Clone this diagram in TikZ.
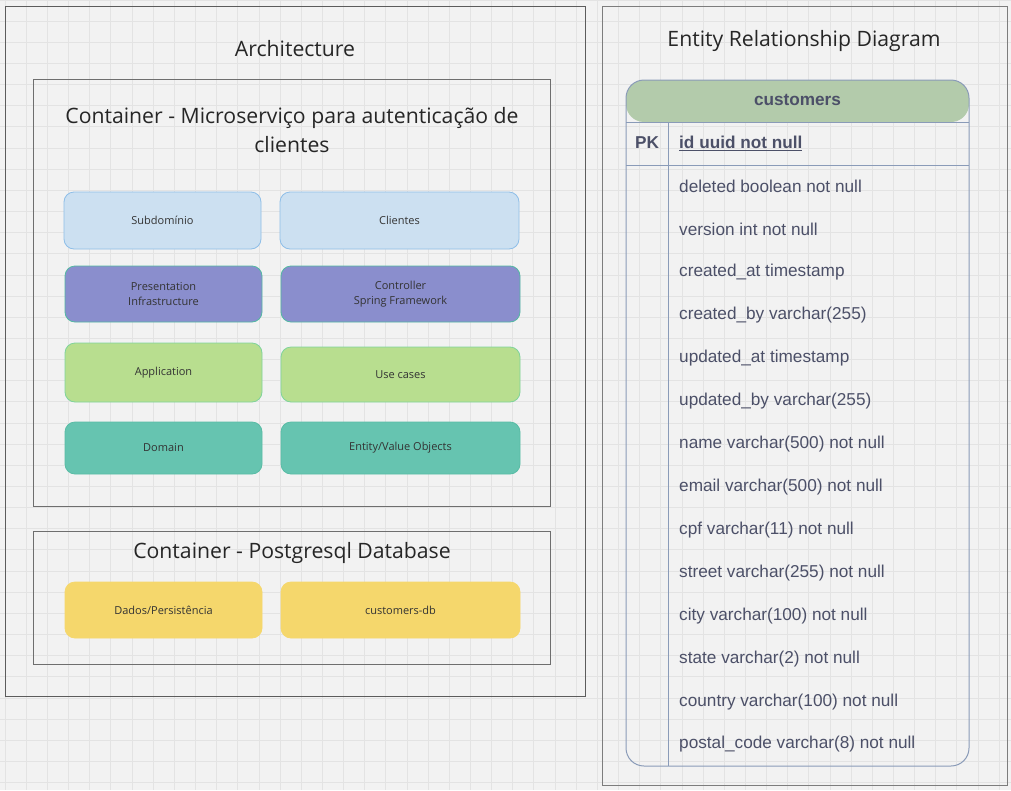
\documentclass[tikz,border=0pt]{standalone}
\usepackage{fontspec}
\setmainfont{Open Sans}
\newfontfamily\tablefont{Liberation Sans}
\usetikzlibrary{positioning}

\definecolor{bgcol}{HTML}{F2F2F2}
\definecolor{gridcol}{HTML}{E3E3E3}
\definecolor{framecol}{HTML}{5C5C5C}
\definecolor{contcol}{HTML}{6E6E6E}
\definecolor{bluefill}{HTML}{CCE0F1}
\definecolor{blueline}{HTML}{8EBEE8}
\definecolor{purplefill}{HTML}{8A8ECD}
\definecolor{purpleline}{HTML}{52B8A2}
\definecolor{greenfill}{HTML}{B8DE8F}
\definecolor{greenline}{HTML}{7FD39B}
\definecolor{tealfill}{HTML}{66C4B0}
\definecolor{tealline}{HTML}{58BCA5}
\definecolor{yellowfill}{HTML}{F5D76C}
\definecolor{headfill}{HTML}{B3CBAB}
\definecolor{tabline}{HTML}{8A9BB8}
\definecolor{tabtext}{HTML}{4C5068}
\definecolor{boxtext}{HTML}{333333}

\tikzset{
	layer/.style={rounded corners=10pt,line width=0.8pt,text=boxtext,align=center,
		font=\fontsize{11}{15}\selectfont,inner sep=0pt},
	title/.style={text=black!85,align=center,font=\fontsize{21.2}{29}\selectfont},
	field/.style={anchor=west,inner xsep=0pt,text=tabtext,font=\tablefont\fontsize{17.2}{20}\selectfont}
}

\begin{document}
\begin{tikzpicture}[x=1pt,y=-1pt]

	\useasboundingbox (0,0) rectangle (1011,790);
	\fill[bgcol] (0,0) rectangle (1011,790);

	% Grid
	\foreach \gx in {0,...,47}
		\draw[gridcol,line width=0.6pt] ({5+21.15*\gx},0) -- ({5+21.15*\gx},790);
	\foreach \gy in {-1,...,36}
		\draw[gridcol,line width=0.6pt] (0,{21+21.15*\gy}) -- (1011,{21+21.15*\gy});

	% Architecture frame
	\draw[framecol,line width=0.9pt] (5,6) rectangle (585,696);
	\node (archtitle) at (295,49) [title] {Architecture};

	% Container - Microservico
	\draw[contcol,line width=0.9pt] (33,79) rectangle (550,506);
	\node (svctitle) at (292,130) [title] {Container - Microserviço para autenticação de\\clientes};

	\node (subdom) at (162.5,220.5) [layer,draw=blueline,fill=bluefill,minimum width=197pt,minimum height=57pt] {Subdomínio};
	\node (clients) at (399.5,220.5) [layer,draw=blueline,fill=bluefill,minimum width=239pt,minimum height=57pt] {Clientes};

	\node (present) at (163.5,294) [layer,draw=purpleline,fill=purplefill,minimum width=197pt,minimum height=56pt] {Presentation\\Infrastructure};
	\node (control) at (400.5,294) [layer,draw=purpleline,fill=purplefill,minimum width=239pt,minimum height=56pt] {Controller\\Spring Framework};

	\node (app) at (163.5,372.5) [layer,draw=greenline,fill=greenfill,minimum width=197pt,minimum height=59pt] {Application};
	\node (usecases) at (400.5,374.5) [layer,draw=greenline,fill=greenfill,minimum width=239pt,minimum height=55pt] {Use cases};

	\node (domain) at (163.5,448) [layer,draw=tealline,fill=tealfill,minimum width=197pt,minimum height=52pt] {Domain};
	\node (entity) at (400.5,448) [layer,draw=tealline,fill=tealfill,minimum width=239pt,minimum height=52pt] {Entity/Value Objects};

	% Container - Postgresql
	\draw[contcol,line width=0.9pt] (33,531) rectangle (550,664);
	\node (dbtitle) at (292,553) [title] {Container - Postgresql Database};

	\node (persist) at (163.5,610) [layer,draw=yellowfill,fill=yellowfill,minimum width=197pt,minimum height=56pt] {Dados/Persistência};
	\node (custdb) at (400.5,610) [layer,draw=yellowfill,fill=yellowfill,minimum width=239pt,minimum height=56pt] {customers-db};

	% ER frame
	\draw[framecol!80,line width=0.9pt] (602,6) rectangle (1007,785);
	\node (ertitle) at (804,41) [title] {Entity Relationship Diagram};

	% Table customers
	\fill[headfill,rounded corners=18pt] (626,122) -- (626,80) -- (969,80) -- (969,122) -- cycle;
	\draw[tabline,line width=1pt,rounded corners=18pt] (626,80) rectangle (969,766);
	\draw[tabline,line width=1pt] (626,122) -- (969,122);
	\draw[tabline,line width=1pt] (626,165) -- (969,165);
	\draw[tabline,line width=1pt] (668,122) -- (668,766);
	\node (tabname) at (797.5,100) [text=tabtext,font=\tablefont\bfseries\fontsize{17.2}{20}\selectfont] {customers};
	\node (pk) at (647,143) [text=tabtext,font=\tablefont\bfseries\fontsize{17.2}{20}\selectfont] {PK};
	\node (fid) at (679,143) [field,font=\tablefont\bfseries\fontsize{17.2}{20}\selectfont] {\underline{id uuid not null}};

	\node (fdeleted) at (679,186) [field] {deleted boolean not null};
	\node (fversion) at (679,229) [field] {version int not null};
	\node (fcreatedat) at (679,272) [field] {created\_at timestamp};
	\node (fcreatedby) at (679,315) [field] {created\_by varchar(255)};
	\node (fupdatedat) at (679,358) [field] {updated\_at timestamp};
	\node (fupdatedby) at (679,401) [field] {updated\_by varchar(255)};
	\node (fname) at (679,444) [field] {name varchar(500) not null};
	\node (femail) at (679,487) [field] {email varchar(500) not null};
	\node (fcpf) at (679,530) [field] {cpf varchar(11) not null};
	\node (fstreet) at (679,573) [field] {street varchar(255) not null};
	\node (fcity) at (679,616) [field] {city varchar(100) not null};
	\node (fstate) at (679,659) [field] {state varchar(2) not null};
	\node (fcountry) at (679,702) [field] {country varchar(100) not null};
	\node (fpostal) at (679,744) [field] {postal\_code varchar(8) not null};

\end{tikzpicture}
\end{document}
